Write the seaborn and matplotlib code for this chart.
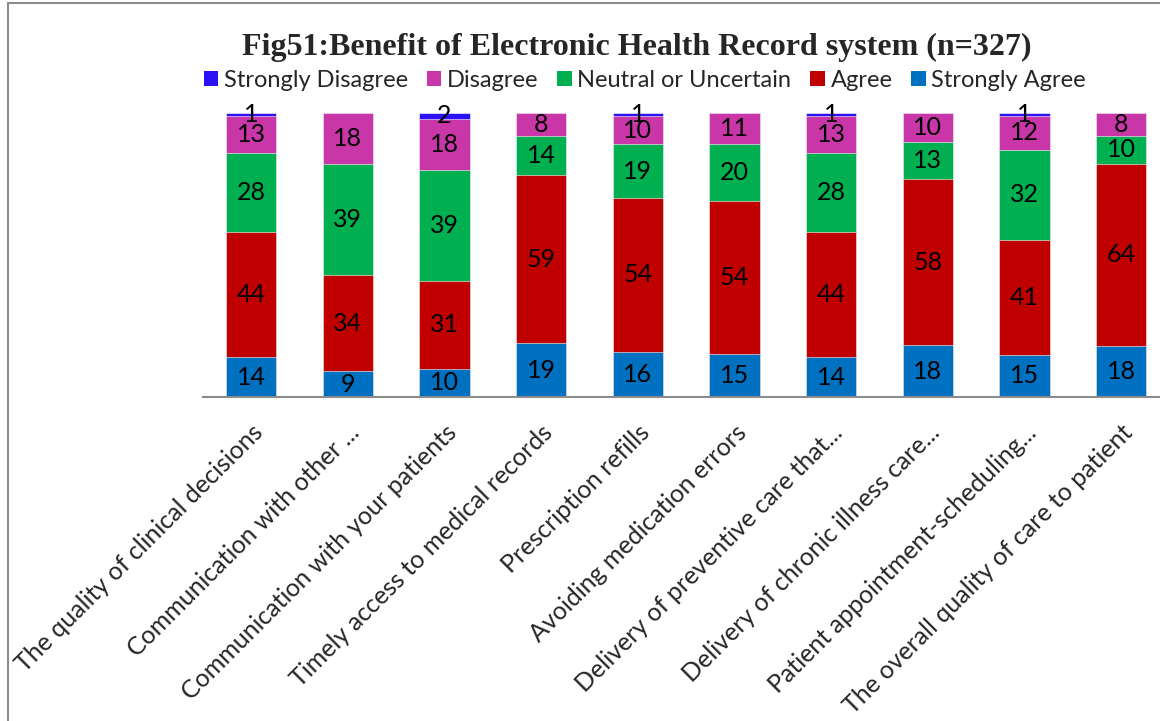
import numpy as np
import pandas as pd
import matplotlib
matplotlib.use('Agg')
import matplotlib.pyplot as plt
import seaborn as sns
from matplotlib.lines import Line2D
from matplotlib.patches import Patch

# Benefit of EHR system, responses per item
items = ['The quality of clinical decisions', 'Communication with other ...',
         'Communication with your patients', 'Timely access to medical records',
         'Prescription refills', 'Avoiding medication errors',
         'Delivery of preventive care that...', 'Delivery of chronic illness care...',
         'Patient appointment-scheduling...', 'The overall quality of care to patient']
strongly_agree = [14, 9, 10, 19, 16, 15, 14, 18, 15, 18]
agree = [44, 34, 31, 59, 54, 54, 44, 58, 41, 64]
neutral = [28, 39, 39, 14, 19, 20, 28, 13, 32, 10]
disagree = [13, 18, 18, 8, 10, 11, 13, 10, 12, 8]
strongly_disagree = [1, 0, 2, 0, 1, 0, 1, 0, 1, 0]

levels = ['Strongly Agree', 'Agree', 'Neutral or Uncertain', 'Disagree', 'Strongly Disagree']
colors = {'Strongly Agree': '#0070C0', 'Agree': '#C00000', 'Neutral or Uncertain': '#00B050',
          'Disagree': '#C936A8', 'Strongly Disagree': '#2B12F5'}

df = pd.DataFrame({'item': items, 'Strongly Agree': strongly_agree, 'Agree': agree,
                   'Neutral or Uncertain': neutral, 'Disagree': disagree,
                   'Strongly Disagree': strongly_disagree})
totals = df[levels].sum(axis=1)
pct = df[levels].div(totals, axis=0) * 100
cum = pct.cumsum(axis=1)

sns.set_style('white')
plt.rcParams['font.family'] = ['Lato', 'DejaVu Sans']

fig = plt.figure(figsize=(11.6, 7.21), dpi=100)
ax = fig.add_axes([0.1747, 0.4494, 0.8335, 0.3939])

# stacked bars: draw cumulative totals from the top layer down
for lvl in reversed(levels):
    sns.barplot(x=df['item'], y=cum[lvl], color=colors[lvl], width=0.52,
                edgecolor='white', linewidth=0.4, saturation=1, ax=ax)

# value labels
for i in range(len(items)):
    for lvl in levels:
        v = df.loc[i, lvl]
        if v == 0:
            continue
        mid = cum.loc[i, lvl] - pct.loc[i, lvl] / 2
        ax.text(i, mid, str(v), ha='center', va='center', fontsize=18, color='black')

ax.set_ylim(0, 100)
ax.set_xlim(-0.5, 9.5)
ax.set_yticks([])
ax.set_xlabel('')
ax.set_ylabel('')
for s in ['top', 'right', 'left']:
    ax.spines[s].set_visible(False)
ax.spines['bottom'].set_color('#8C8C8C')
ax.spines['bottom'].set_linewidth(1.5)
ax.tick_params(axis='x', length=0, pad=17)
ax.set_xticks(range(len(items)))
ax.set_xticklabels(items, rotation=45, ha='right', rotation_mode='anchor', fontsize=18)

fig.text(0.549, 0.934, 'Fig51:Benefit of Electronic Health Record system (n=327)',
         ha='center', va='center', fontsize=23, fontweight='bold', family='Liberation Serif')

leg_order = ['Strongly Disagree', 'Disagree', 'Neutral or Uncertain', 'Agree', 'Strongly Agree']
handles = [Patch(facecolor=colors[l], edgecolor='none') for l in leg_order]
fig.legend(handles, leg_order, loc='center', bbox_to_anchor=(0.556, 0.889), ncol=5,
           frameon=False, fontsize=17, handlelength=0.6, handleheight=0.6,
           handletextpad=0.25, columnspacing=0.8)

# outer border (top and left visible)
fig.add_artist(Line2D([0.0065, 1.0], [0.9965, 0.9965], color='#8C8C8C', lw=1.5))
fig.add_artist(Line2D([0.0065, 0.0065], [0.0, 0.9965], color='#8C8C8C', lw=1.5))

fig.savefig('out.png', dpi=100)
